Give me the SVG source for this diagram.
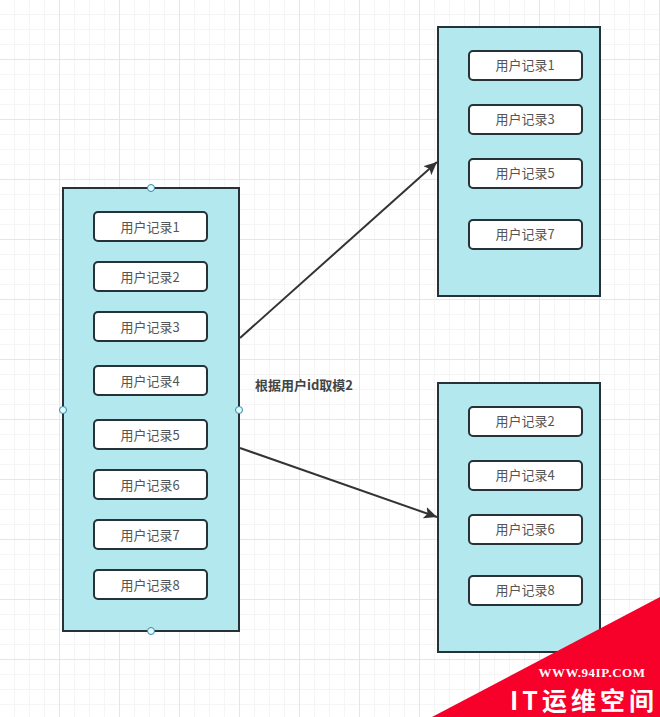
<svg xmlns="http://www.w3.org/2000/svg" width="660" height="717" viewBox="0 0 660 717">
<style>
.panel{fill:#b3e9ee;stroke:#263238;stroke-width:2}
.rec{fill:#fff;stroke:#263238;stroke-width:2}
.t{font-family:"Noto Sans CJK SC","Liberation Sans",sans-serif;font-size:13px;fill:#555;text-anchor:middle}
.h{fill:#e6f9ff;stroke:#2a8ca8;stroke-width:1}
.c{fill:none;stroke:#333;stroke-width:2}
</style>
<defs>
<pattern id="minor" width="15" height="15" patternUnits="userSpaceOnUse" x="-1" y="-1"><path d="M0.5 0V15M0 0.5H15" stroke="#f5f5f5" stroke-width="1" fill="none"/></pattern>
<pattern id="major" width="60" height="60" patternUnits="userSpaceOnUse" x="-1" y="-1"><path d="M0.5 0V60M0 0.5H60" stroke="#e6e6e6" stroke-width="1" fill="none"/></pattern>
<marker id="arrow" markerUnits="userSpaceOnUse" markerWidth="14" markerHeight="12" refX="13" refY="6" orient="auto"><path d="M0 0L13 6L0 12L3 6Z" fill="#333"/></marker>
</defs>
<rect width="660" height="717" fill="#fff"/>
<rect width="660" height="717" fill="url(#minor)"/>
<rect width="660" height="717" fill="url(#major)"/>
<g id="left-panel">
<rect class="panel" x="63" y="188" width="176" height="443"/>
<circle class="h" cx="151" cy="188" r="3.500"/><circle class="h" cx="63" cy="410" r="3.500"/><circle class="h" cx="239" cy="410" r="3.500"/><circle class="h" cx="151" cy="631" r="3.500"/>
</g>
<g id="l1"><rect class="rec" x="94" y="212" width="113" height="29" rx="4"/><text class="t" x="150" y="232">用户记录1</text></g>
<g id="l2"><rect class="rec" x="94" y="262" width="113" height="29" rx="4"/><text class="t" x="150" y="282">用户记录2</text></g>
<g id="l3"><rect class="rec" x="94" y="312" width="113" height="29" rx="4"/><text class="t" x="150" y="332">用户记录3</text></g>
<g id="l4"><rect class="rec" x="94" y="366" width="113" height="29" rx="4"/><text class="t" x="150" y="386">用户记录4</text></g>
<g id="l5"><rect class="rec" x="94" y="420" width="113" height="29" rx="4"/><text class="t" x="150" y="440">用户记录5</text></g>
<g id="l6"><rect class="rec" x="94" y="470" width="113" height="29" rx="4"/><text class="t" x="150" y="490">用户记录6</text></g>
<g id="l7"><rect class="rec" x="94" y="520" width="113" height="29" rx="4"/><text class="t" x="150" y="540">用户记录7</text></g>
<g id="l8"><rect class="rec" x="94" y="570" width="113" height="29" rx="4"/><text class="t" x="150" y="590">用户记录8</text></g>
<g id="top-panel"><rect class="panel" x="438" y="27" width="162" height="269"/></g>
<g id="t1"><rect class="rec" x="469" y="51" width="113" height="29" rx="4"/><text class="t" x="525" y="70">用户记录1</text></g>
<g id="t3"><rect class="rec" x="469" y="105" width="113" height="29" rx="4"/><text class="t" x="525" y="124">用户记录3</text></g>
<g id="t5"><rect class="rec" x="469" y="159" width="113" height="29" rx="4"/><text class="t" x="525" y="178">用户记录5</text></g>
<g id="t7"><rect class="rec" x="469" y="220" width="113" height="29" rx="4"/><text class="t" x="525" y="239">用户记录7</text></g>
<g id="bottom-panel"><rect class="panel" x="438" y="383" width="162" height="269"/></g>
<g id="b2"><rect class="rec" x="469" y="407" width="113" height="29" rx="4"/><text class="t" x="525" y="426">用户记录2</text></g>
<g id="b4"><rect class="rec" x="469" y="461" width="113" height="29" rx="4"/><text class="t" x="525" y="480">用户记录4</text></g>
<g id="b6"><rect class="rec" x="469" y="515" width="113" height="29" rx="4"/><text class="t" x="525" y="534">用户记录6</text></g>
<g id="b8"><rect class="rec" x="469" y="576" width="113" height="29" rx="4"/><text class="t" x="525" y="595">用户记录8</text></g>
<g id="connectors">
<path class="c" d="M240 338L437 162" marker-end="url(#arrow)"/>
<path class="c" d="M240 448L437 517" marker-end="url(#arrow)"/>
</g>
<text x="255" y="390" font-family="Noto Sans CJK SC,Liberation Sans,sans-serif" font-size="13" font-weight="700" fill="#444">根据用户id取模2</text>
<g id="watermark">
<path d="M432 717L660 597V717Z" fill="#f7002a"/>
<text x="592" y="677" font-family="Liberation Serif,serif" font-size="13" font-weight="700" fill="#fff" text-anchor="middle" letter-spacing="0.5">WWW.94IP.COM</text>
<text x="584" y="710" font-family="Noto Sans CJK SC,Liberation Sans,sans-serif" font-size="25" font-weight="700" fill="#fff" text-anchor="middle" letter-spacing="4">IT运维空间</text>
</g>
</svg>
